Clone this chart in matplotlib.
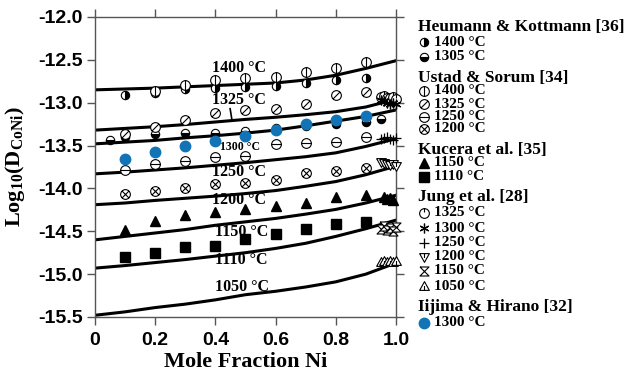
import numpy as np
import matplotlib
matplotlib.use("Agg")
from matplotlib import pyplot as plt
from matplotlib.path import Path

plt.rcParams['mathtext.fontset'] = 'custom'
plt.rcParams['mathtext.rm'] = 'Liberation Serif:bold'
plt.rcParams['mathtext.bf'] = 'Liberation Serif:bold'

# model curves, read at x = 0, 0.1, ... 1.0
x_curve = [0.0, 0.1, 0.2, 0.3, 0.4, 0.5, 0.6, 0.7, 0.8, 0.9, 1.0]
curve_1400 = [-12.85, -12.84, -12.83, -12.815, -12.80, -12.785, -12.77, -12.735, -12.68, -12.60, -12.51]
curve_1325 = [-13.32, -13.30, -13.28, -13.255, -13.225, -13.195, -13.17, -13.14, -13.105, -13.05, -12.96]
curve_1300 = [-13.48, -13.46, -13.44, -13.41, -13.385, -13.355, -13.32, -13.27, -13.215, -13.16, -13.085]
curve_1250 = [-13.83, -13.81, -13.785, -13.76, -13.73, -13.70, -13.665, -13.63, -13.585, -13.51, -13.42]
curve_1200 = [-14.19, -14.17, -14.14, -14.115, -14.09, -14.06, -14.025, -13.975, -13.92, -13.84, -13.74]
curve_1150 = [-14.60, -14.56, -14.52, -14.48, -14.43, -14.39, -14.35, -14.30, -14.245, -14.17, -14.08]
curve_1110 = [-14.93, -14.90, -14.865, -14.83, -14.79, -14.75, -14.70, -14.64, -14.56, -14.47, -14.37]
curve_1050 = [-15.48, -15.44, -15.39, -15.35, -15.30, -15.24, -15.20, -15.15, -15.09, -15.00, -14.87]

curves = [curve_1400, curve_1325, curve_1300, curve_1250, curve_1200, curve_1150, curve_1110, curve_1050]
curve_names = ["1400 °C", "1325 °C", "1300 °C", "1250 °C", "1200 °C", "1150 °C", "1110 °C", "1050 °C"]
label_x = [0.39, 0.39, 0.415, 0.39, 0.39, 0.40, 0.40, 0.40]
label_y = [-12.60, -12.97, -13.52, -13.81, -14.14, -14.51, -14.83, -15.15]

# experimental data
x_tenths = [0.1, 0.2, 0.3, 0.4, 0.5, 0.6, 0.7, 0.8, 0.9]
heu_1400 = [-12.91, -12.89, -12.84, -12.83, -12.82, -12.80, -12.77, -12.74, -12.71]
heu_1305_x = [0.05, 0.1, 0.2, 0.3, 0.4, 0.5, 0.6, 0.7, 0.8, 0.9, 0.95]
heu_1305 = [-13.43, -13.40, -13.37, -13.35, -13.35, -13.33, -13.30, -13.27, -13.25, -13.23, -13.19]
ust_1400_x = [0.2, 0.3, 0.4, 0.5, 0.6, 0.7, 0.8, 0.9]
ust_1400 = [-12.86, -12.79, -12.73, -12.71, -12.70, -12.645, -12.60, -12.53]
ust_1325 = [-13.36, -13.28, -13.20, -13.12, -13.09, -13.07, -13.01, -12.91, -12.88]
ust_1250 = [-13.79, -13.72, -13.68, -13.63, -13.62, -13.485, -13.47, -13.455, -13.40]
ust_1200 = [-14.07, -14.03, -13.99, -13.95, -13.94, -13.90, -13.82, -13.80, -13.76]
kuc_1150_x = [0.1, 0.2, 0.3, 0.4, 0.5, 0.6, 0.7, 0.8, 0.9, 0.96, 0.97, 0.98, 0.99]
kuc_1150 = [-14.485, -14.38, -14.31, -14.27, -14.24, -14.205, -14.17, -14.10, -14.08, -14.10, -14.12, -14.11, -14.13]
kuc_1110 = [-14.80, -14.75, -14.68, -14.67, -14.59, -14.53, -14.47, -14.41, -14.39]
iij_1300 = [-13.66, -13.58, -13.51, -13.45, -13.39, -13.32, -13.25, -13.20, -13.155]

x_jung = [0.95, 0.96, 0.97, 0.98, 0.99, 1.0]
jung_1325 = [-12.93, -12.92, -12.94, -12.95, -12.93, -12.96]
jung_1300 = [-12.97, -12.98, -13.00, -13.02, -13.00, -13.01]
jung_1250 = [-13.42, -13.41, -13.40, -13.42, -13.43, -13.41]
jung_1200 = [-13.69, -13.70, -13.72, -13.73, -13.72, -13.74]
jung_1150 = [-14.47, -14.44, -14.48, -14.46, -14.50, -14.45]
jung_1050 = [-14.86, -14.85, -14.86, -14.85, -14.86, -14.85]

# marker shapes
def compound(*segs):
    verts, codes = [], []
    for s in segs:
        verts += s
        codes += [Path.MOVETO] + [Path.LINETO] * (len(s) - 1)
    return Path(verts, codes)

circle = Path.unit_circle()
m_vline = Path.make_compound_path(circle, compound([(0, -1), (0, 1)]))
m_slash = Path.make_compound_path(circle, compound([(-0.7, -0.7), (0.7, 0.7)]))
m_hline = Path.make_compound_path(circle, compound([(-1, 0), (1, 0)]))
m_cross = Path.make_compound_path(circle, compound([(-0.7, -0.7), (0.7, 0.7)], [(-0.7, 0.7), (0.7, -0.7)]))
m_clock = Path.make_compound_path(circle, compound([(0, 1), (0, 0.2)]))
m_dtri = compound([(-1, 0.8), (1, 0.8), (0, -1), (-1, 0.8)], [(0, 0.8), (0, -0.1)])
m_utri = compound([(-1, -0.8), (1, -0.8), (0, 1), (-1, -0.8)], [(0, -0.8), (0, 0.1)])
m_hour = compound([(-1, 1), (1, 1), (-1, -1), (1, -1), (-1, 1)])

blue = '#1273b6'
styles = {
    'heu1400': dict(marker='o', ms=6, fillstyle='right', mfc='black', mfcalt='white', mec='black', mew=0.8),
    'heu1305': dict(marker='o', ms=6, fillstyle='bottom', mfc='black', mfcalt='white', mec='black', mew=0.8),
    'ust1400': dict(marker=m_vline, ms=7, mfc='white', mec='black', mew=0.8),
    'ust1325': dict(marker=m_slash, ms=7, mfc='white', mec='black', mew=0.8),
    'ust1250': dict(marker=m_hline, ms=7, mfc='white', mec='black', mew=0.8),
    'ust1200': dict(marker=m_cross, ms=7, mfc='white', mec='black', mew=0.8),
    'kuc1150': dict(marker='^', ms=6.5, mfc='black', mec='black'),
    'kuc1110': dict(marker='s', ms=6.5, mfc='black', mec='black'),
    'jung1325': dict(marker=m_clock, ms=7, mfc='white', mec='black', mew=0.8),
    'jung1300': dict(marker=(6, 2, 0), ms=7, mec='black', mew=0.9),
    'jung1250': dict(marker='+', ms=7, mec='black', mew=0.9),
    'jung1200': dict(marker=m_dtri, ms=7, mfc='white', mec='black', mew=0.8),
    'jung1150': dict(marker=m_hour, ms=6.5, mfc='white', mec='black', mew=0.8),
    'jung1050': dict(marker=m_utri, ms=7, mfc='white', mec='black', mew=0.8),
    'iij1300': dict(marker='o', ms=7.5, mfc=blue, mec=blue),
}

fig = plt.figure(figsize=(6.27, 3.79), dpi=100)
ax = fig.add_axes([0.1515, 0.1636, 0.480, 0.7916])

for c in curves:
    ax.plot(x_curve, c, color='black', lw=2.2, zorder=2)
for nm, lx, ly in zip(curve_names, label_x, label_y):
    fs = 8.5 if nm == "1300 °C" else 11.5
    ax.text(lx, ly, nm, ha='left', va='center', fontsize=fs,
            family='Liberation Serif', weight='bold', zorder=4)
# leader from 1325 label to its curve
ax.plot([0.449, 0.455], [-13.07, -13.20], color='black', lw=1.2, zorder=2)

series = [
    (x_tenths, heu_1400, 'heu1400'), (heu_1305_x, heu_1305, 'heu1305'),
    (ust_1400_x, ust_1400, 'ust1400'), (x_tenths, ust_1325, 'ust1325'),
    (x_tenths, ust_1250, 'ust1250'), (x_tenths, ust_1200, 'ust1200'),
    (kuc_1150_x, kuc_1150, 'kuc1150'), (x_tenths, kuc_1110, 'kuc1110'),
    (x_jung, jung_1325, 'jung1325'), (x_jung, jung_1300, 'jung1300'),
    (x_jung, jung_1250, 'jung1250'), (x_jung, jung_1200, 'jung1200'),
    (x_jung, jung_1150, 'jung1150'), (x_jung, jung_1050, 'jung1050'),
    (x_tenths, iij_1300, 'iij1300'),
]
for xs, ys, key in series:
    ax.plot(xs, ys, ls='none', zorder=3, clip_on=False, **styles[key])

ax.set_xlim(0, 1.0)
ax.set_ylim(-15.5, -12.0)
ax.set_xticks([0, 0.2, 0.4, 0.6, 0.8, 1.0])
ax.set_xticklabels(['0', '0.2', '0.4', '0.6', '0.8', '1.0'])
ax.set_yticks(np.arange(-15.5, -11.99, 0.5))
ax.set_yticklabels(['%.1f' % v for v in np.arange(-15.5, -11.99, 0.5)])
ax.tick_params(direction='out', length=6, width=1, top=True, right=True,
               labelsize=14, color='#555555')
ax.tick_params(axis='x', pad=5)
ax.tick_params(axis='y', pad=3)
for lab in ax.get_xticklabels() + ax.get_yticklabels():
    lab.set_family('Liberation Sans')
    lab.set_weight('bold')
for s in ax.spines.values():
    s.set_color('#555555')
    s.set_linewidth(1)

ax.set_xlabel('Mole Fraction Ni', family='Liberation Serif', weight='bold', fontsize=16, labelpad=2)
ax.set_ylabel(r'Log$_{\mathbf{10}}$($\mathbf{D}_{\mathbf{CoNi}}$)', family='Liberation Serif',
              weight='bold', fontsize=16, labelpad=8)

# legend panel, pixel coordinates
lg = fig.add_axes([0, 0, 1, 1], zorder=-1)
lg.set_xlim(0, 627)
lg.set_ylim(379, 0)
lg.axis('off')

groups = [
    ("Heumann & Kottmann [36]", 27, [('heu1400', "1400 °C", 42), ('heu1305', "1305 °C", 57)]),
    ("Ustad & Sorum [34]", 78, [('ust1400', "1400 °C", 91), ('ust1325', "1325 °C", 104),
                                ('ust1250', "1250 °C", 117), ('ust1200', "1200 °C", 129)]),
    ("Kucera et al. [35]", 150, [('kuc1150', "1150 °C", 163), ('kuc1110', "1110 °C", 177)]),
    ("Jung et al. [28]", 197, [('jung1325', "1325 °C", 213), ('jung1300', "1300 °C", 228),
                              ('jung1250', "1250 °C", 243), ('jung1200', "1200 °C", 257),
                              ('jung1150', "1150 °C", 271), ('jung1050', "1050 °C", 286)]),
    ("Iijima & Hirano [32]", 307, [('iij1300', "1300 °C", 323)]),
]
for title, ty, entries in groups:
    lg.text(418, ty, title, ha='left', va='center', family='Liberation Serif',
            weight='bold', fontsize=12.5)
    for key, txt, ey in entries:
        lg.plot([424], [ey], ls='none', **styles[key])
        lg.text(434, ey, txt, ha='left', va='center', family='Liberation Serif',
                weight='bold', fontsize=11)

fig.savefig('out.png', dpi=100)
